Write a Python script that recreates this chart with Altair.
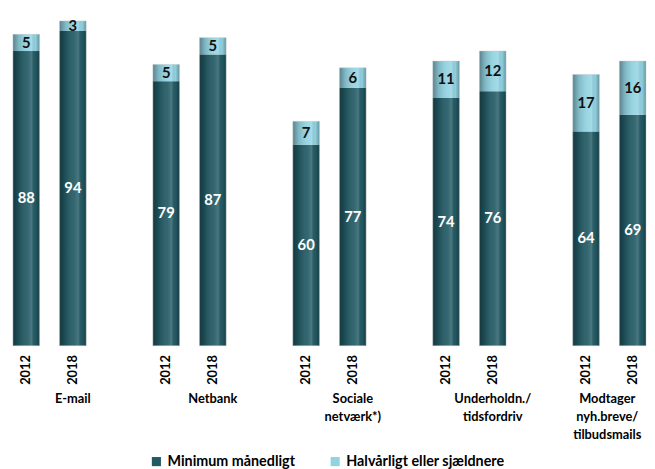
import altair as alt
import pandas as pd

groups = ["E-mail", "Netbank", "Sociale|netværk*)", "Underholdn./|tidsfordriv",
          "Modtager|nyh.breve/|tilbudsmails"]
years = ["2012", "2018"]
series = ["Minimum månedligt", "Halvårligt eller sjældnere"]
minimum = [88, 94, 79, 87, 60, 77, 74, 76, 64, 69]
half = [5, 3, 5, 5, 7, 6, 11, 12, 17, 16]

rows = []
slots = []
i = 0
for gi, g in enumerate(groups):
    if gi > 0:
        slots.append(f"~{gi}")  # empty slot between groups
    for yr in years:
        key = f"{g}#{yr}"
        slots.append(key)
        m, h = minimum[i], half[i]
        rows.append(dict(key=key, group=g, year=yr, series=series[0], start=0, end=m,
                         mid=m / 2, label=m, total=m + h))
        rows.append(dict(key=key, group=g, year=yr, series=series[1], start=m, end=m + h,
                         mid=m + h / 2, label=h, total=m + h))
        i += 1
df = pd.DataFrame(rows)

FONT = "Lato"
H = 339
W = 641

xscale = alt.Scale(domain=slots, paddingInner=0.43, paddingOuter=0)
x = alt.X("key:N", title=None, scale=xscale,
          axis=alt.Axis(labelExpr="indexof(datum.value, '~') >= 0 ? '' : slice(datum.value, -4)",
                        labelAngle=-90, labelFont=FONT, labelFontSize=13,
                        labelFontWeight="bold", labelColor="black", ticks=False,
                        domain=False, grid=False, labelPadding=9))
yscale = alt.Scale(domain=[0, 100])

bars = alt.Chart().mark_bar().encode(
    x=x,
    y=alt.Y("start:Q", scale=yscale, axis=None),
    y2="end:Q",
    color=alt.Color("series:N", sort=series,
                    scale=alt.Scale(domain=series, range=["#225a64", "#92d3e2"]),
                    legend=alt.Legend(title=None, orient="none", legendX=138, legendY=449,
                                      direction="horizontal", symbolType="square",
                                      symbolSize=85, symbolStrokeWidth=0,
                                      labelFont=FONT, labelFontSize=14.5,
                                      labelFontWeight="bold", labelColor="black",
                                      labelLimit=400, columnPadding=33,
                                      symbolOffset=0, labelOffset=4)),
)

shine_grad = alt.Gradient(
    gradient="linear",
    stops=[
        alt.GradientStop(offset=0, color="rgba(0,0,0,0.38)"),
        alt.GradientStop(offset=0.2, color="rgba(0,0,0,0.15)"),
        alt.GradientStop(offset=0.55, color="rgba(255,255,255,0.08)"),
        alt.GradientStop(offset=0.7, color="rgba(255,255,255,0.18)"),
        alt.GradientStop(offset=0.85, color="rgba(0,0,0,0.02)"),
        alt.GradientStop(offset=1, color="rgba(0,0,0,0.3)"),
    ],
    x1=0, x2=1, y1=0, y2=0,
)

first = alt.datum.series == series[0]

shine = alt.Chart().transform_filter(first).mark_bar(
    fill=shine_grad, stroke="#c8c8c8", strokeWidth=0.6, strokeOpacity=0.7
).encode(
    x=x,
    y=alt.Y("total:Q", scale=yscale, axis=None, stack=None),
)

tdark = alt.Chart().transform_filter(first).mark_text(
    font=FONT, fontSize=15, fontWeight="bold", color="white", baseline="middle"
).encode(x=x, y=alt.Y("mid:Q", scale=yscale, axis=None), text="label:Q")

tlight = alt.Chart().transform_filter(alt.datum.series == series[1]).mark_text(
    font=FONT, fontSize=15, fontWeight="bold", color="#111111", baseline="middle"
).encode(x=x, y=alt.Y("mid:Q", scale=yscale, axis=None), text="label:Q")

glabel_style = dict(font=FONT, fontSize=13, fontWeight="bold", color="black",
                    baseline="top", align="center", lineBreak="|", lineHeight=18)

glabels = alt.Chart().transform_filter(
    first & (alt.datum.year == years[1]) & (alt.datum.group != groups[-1])
).mark_text(**glabel_style).encode(
    x=x, y=alt.value(H + 48), text="group:N"
)

glabel_last = alt.Chart().transform_filter(
    first & (alt.datum.year == years[0]) & (alt.datum.group == groups[-1])
).mark_text(dx=8, **glabel_style).encode(
    x=alt.X("key:N", title=None, scale=xscale, bandPosition=1),
    y=alt.value(H + 48), text="group:N"
)

chart = alt.layer(bars, shine, tdark, tlight, glabels, glabel_last, data=df).properties(
    width=W, height=H,
    padding={"left": 4, "top": 0, "right": 0, "bottom": 0},
).configure_view(stroke=None)

chart.save("out.html", embed_options={"renderer": "svg", "actions": False})
